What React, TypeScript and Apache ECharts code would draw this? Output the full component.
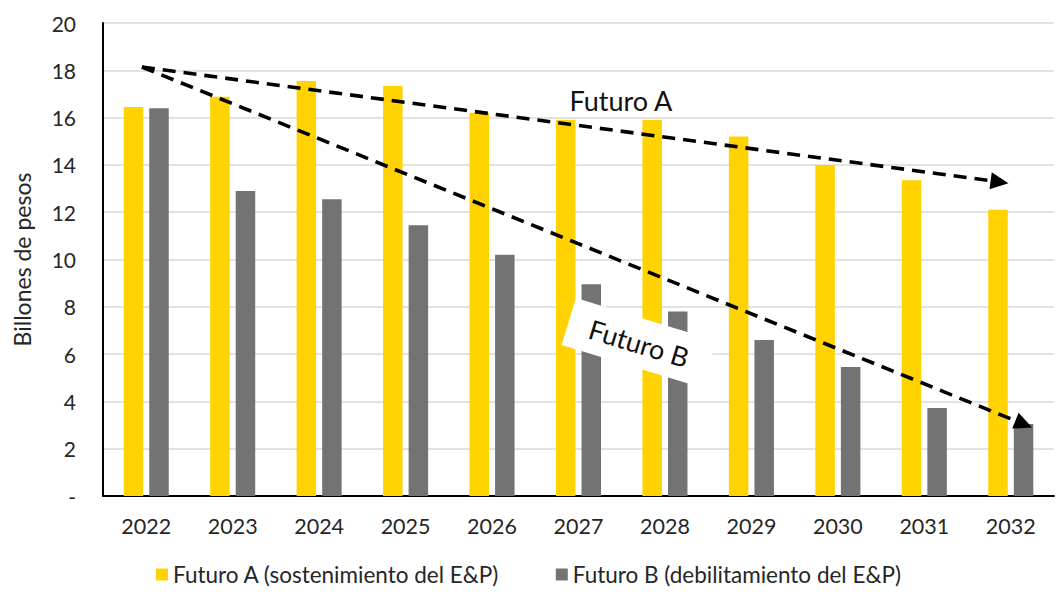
import React, { useEffect, useRef } from "react";
import * as echarts from "echarts";

const years = ["2022", "2023", "2024", "2025", "2026", "2027", "2028", "2029", "2030", "2031", "2032"];
const futuroA = [16.45, 16.88, 17.55, 17.34, 16.2, 15.9, 15.9, 15.2, 14.0, 13.35, 12.1];
const futuroB = [16.4, 12.9, 12.55, 11.45, 10.2, 8.95, 7.8, 6.6, 5.45, 3.72, 3.04];
const seriesNames = ["Futuro A (sostenimiento del E&P)", "Futuro B (debilitamiento del E&P)"];
const yAxisName = "Billones de pesos";
// Trend arrows on a hidden 0..11 value axis (category slots)
const arrowA = [[0.45, 18.14], [10.37, 13.28]];
const arrowB = [[0.45, 18.14], [10.65, 3.04]];
const annotations = [
  { name: "Futuro A", value: [5.99, 16.72], rotate: 0 },
  { name: "Futuro B", value: [6.2, 6.47], rotate: -17 },
];

const FONT = "Lato";
const TXT = "#262626";

export default function App() {
  const ref = useRef<HTMLDivElement>(null);
  useEffect(() => {
    if (!ref.current) return;
    const chart = echarts.init(ref.current, undefined, { renderer: "svg" });
    const dash = { color: "#000", width: 3.6, type: [13, 8] as number[], opacity: 1, cap: "butt" };
    const arrowLine = (pts: number[][]) => [
      { coord: pts[0], symbol: "none", lineStyle: dash },
      { coord: pts[1], symbol: "triangle", symbolSize: [17, 18], lineStyle: dash },
    ];
    chart.setOption({
      animation: false,
      backgroundColor: "#ffffff",
      textStyle: { fontFamily: FONT },
      grid: { left: 103, top: 23, right: 3, bottom: 97 },
      legend: {
        bottom: 2,
        left: "center",
        itemWidth: 12,
        itemHeight: 12,
        itemGap: 56,
        icon: "rect",
        textStyle: { fontFamily: FONT, fontSize: 22.5, color: TXT },
        data: seriesNames,
      },
      xAxis: [
        {
          type: "category",
          data: years,
          axisLine: { lineStyle: { color: "#000", width: 2 } },
          axisTick: { show: false },
          axisLabel: { fontFamily: FONT, fontSize: 21.5, color: TXT, margin: 19 },
        },
        { type: "value", min: 0, max: 11, show: false },
      ],
      yAxis: {
        type: "value",
        min: 0,
        max: 20,
        interval: 2,
        name: yAxisName,
        nameLocation: "middle",
        nameGap: 70,
        nameTextStyle: { fontFamily: FONT, fontSize: 23, color: TXT },
        axisLine: { show: true, lineStyle: { color: "#000", width: 2 } },
        axisTick: { show: false },
        axisLabel: {
          fontFamily: FONT,
          fontSize: 21,
          color: TXT,
          margin: 27,
          formatter: (v: number) => (v === 0 ? "-" : String(v)),
        },
        splitLine: { lineStyle: { color: "#d9d9d9", width: 1.5 } },
      },
      series: [
        {
          name: seriesNames[0],
          type: "bar",
          data: futuroA,
          barWidth: 19.5,
          barGap: "31%",
          itemStyle: { color: "#FFD200" },
        },
        {
          name: seriesNames[1],
          type: "bar",
          data: futuroB,
          barWidth: 19.5,
          itemStyle: { color: "#737373" },
        },
        {
          type: "scatter",
          xAxisIndex: 1,
          z: 10,
          symbolSize: 1,
          silent: true,
          itemStyle: { opacity: 1, color: "#ffffff" },
          data: annotations.map((a) => ({
            name: a.name,
            value: a.value,
            label: {
              show: true,
              position: "inside",
              formatter: a.name,
              rotate: a.rotate,
              fontFamily: FONT,
              fontSize: 27,
              color: "#111",
              opacity: 1,
              backgroundColor: "#ffffff",
              padding: a.rotate ? [12, 22, 10, 22] : [4, 13, 2, 13],
            },
          })),
          markLine: {
            silent: true,
            symbolSize: [17, 18],
            label: { show: false },
            lineStyle: dash,
            emphasis: { disabled: true },
            data: [arrowLine(arrowA), arrowLine(arrowB)],
          },
        },
      ],
    });
    return () => chart.dispose();
  }, []);
  return (
    <div
      ref={ref}
      style={{ position: "fixed", left: 0, top: 0, width: 1057, height: 593 }}
    />
  );
}
